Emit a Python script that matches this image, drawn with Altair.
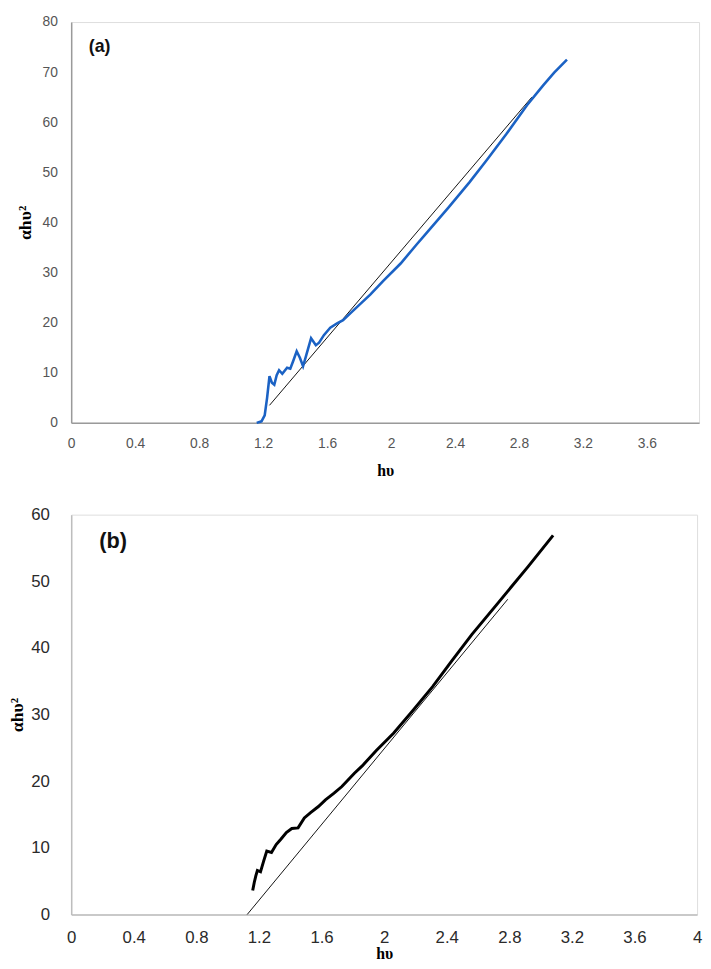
import altair as alt
import pandas as pd

# ---------------- data ----------------
# panel (a): measured curve (blue) and linear fit (thin black)
a_hv = [1.16, 1.19, 1.21, 1.225, 1.24, 1.255, 1.27, 1.285, 1.30, 1.32, 1.35, 1.37,
        1.39, 1.41, 1.43, 1.45, 1.47, 1.50, 1.53, 1.55, 1.58, 1.62, 1.66, 1.70,
        1.75, 1.81, 1.87, 1.95, 2.06, 2.16, 2.22, 2.36, 2.49, 2.60, 2.72, 2.85,
        2.95, 3.02, 3.10]
a_val = [0.0, 0.3, 1.5, 5.0, 9.3, 8.0, 7.6, 9.5, 10.5, 9.8, 11.0, 10.8,
         12.5, 14.3, 13.0, 11.3, 13.5, 16.9, 15.5, 16.0, 17.5, 19.0, 19.8, 20.5,
         22.0, 23.8, 25.6, 28.3, 31.8, 35.6, 37.8, 43.0, 48.0, 52.5, 57.6, 63.4,
         67.3, 69.9, 72.5]
a_fit_hv = [1.24, 2.88]
a_fit_val = [3.5, 65.0]

# panel (b): measured curve (thick black) and linear fit (thin black)
b_hv = [1.16, 1.17, 1.18, 1.19, 1.21, 1.23, 1.25, 1.28, 1.31, 1.34, 1.375, 1.41,
        1.45, 1.49, 1.53, 1.58, 1.625, 1.68, 1.73, 1.81, 1.86, 1.95, 2.06, 2.18,
        2.31, 2.43, 2.56, 2.73, 2.92, 3.08]
b_val = [3.6, 4.8, 5.8, 6.6, 6.4, 8.0, 9.5, 9.3, 10.5, 11.3, 12.3, 12.9,
         13.0, 14.5, 15.3, 16.2, 17.2, 18.2, 19.2, 21.2, 22.3, 24.6, 27.2, 30.5,
         34.2, 38.0, 42.0, 46.8, 52.2, 56.9]
b_fit_hv = [1.125, 2.79]
b_fit_val = [0.0, 47.3]

x_ticks_a = [0, 0.4, 0.8, 1.2, 1.6, 2, 2.4, 2.8, 3.2, 3.6]
x_ticks_b = [0, 0.4, 0.8, 1.2, 1.6, 2, 2.4, 2.8, 3.2, 3.6, 4]
y_ticks_a = [0, 10, 20, 30, 40, 50, 60, 70, 80]
y_ticks_b = [0, 10, 20, 30, 40, 50, 60]

x_title = "hυ"
y_title = "αhυ²"

df_a = pd.DataFrame({"hv": a_hv, "v": a_val})
df_a_fit = pd.DataFrame({"hv": a_fit_hv, "v": a_fit_val})
df_b = pd.DataFrame({"hv": b_hv, "v": b_val})
df_b_fit = pd.DataFrame({"hv": b_fit_hv, "v": b_fit_val})
df_a_lab = pd.DataFrame({"hv": [0.11], "v": [75.0], "t": ["(a)"]})
df_b_lab = pd.DataFrame({"hv": [0.18], "v": [56.0], "t": ["(b)"]})

SERIF = "Liberation Serif"
SANS = "Liberation Sans"


def axes(xdom, xticks, ydom, yticks, lab_size, lab_color, dom_color,
         x_lpad, x_tpad, y_lpad, y_tpad):
    x = alt.X(
        "hv:Q",
        scale=alt.Scale(domain=xdom, nice=False, zero=False),
        axis=alt.Axis(values=xticks, title=x_title, grid=False, ticks=False,
                      format="~r", labelFlush=False,
                      labelFont=SANS, labelFontSize=lab_size, labelColor=lab_color,
                      labelPadding=x_lpad, domainColor=dom_color, domainWidth=1.5,
                      titleFont=SERIF, titleFontSize=16, titleFontWeight="bold",
                      titleColor="#000000", titlePadding=x_tpad),
    )
    y = alt.Y(
        "v:Q",
        scale=alt.Scale(domain=ydom, nice=False, zero=False),
        axis=alt.Axis(values=yticks, title=y_title, grid=False, ticks=False,
                      format="d", labelFlush=False,
                      labelFont=SANS, labelFontSize=lab_size, labelColor=lab_color,
                      labelPadding=y_lpad, domainColor=dom_color, domainWidth=1.5,
                      titleFont=SERIF, titleFontSize=18, titleFontWeight="bold",
                      titleColor="#000000", titlePadding=y_tpad),
    )
    return x, y


# ---------------- panel (a) ----------------
xa, ya = axes([0, 3.926], x_ticks_a, [0, 80], y_ticks_a, 14, "#555555", "#9a9a9a",
              14, 12, 14, 8)
curve_a = alt.Chart(df_a).mark_line(color="#1b62c4", strokeWidth=2.6).encode(x=xa, y=ya)
fit_a = alt.Chart(df_a_fit).mark_line(color="#111111", strokeWidth=1).encode(x=xa, y=ya)
lab_a = alt.Chart(df_a_lab).mark_text(align="left", baseline="middle", font=SANS,
                                      fontSize=18, fontWeight="bold", color="#111111"
                                      ).encode(x=xa, y=ya, text="t:N")
panel_a = alt.layer(fit_a, curve_a, lab_a).properties(width=636, height=406)

# ---------------- panel (b) ----------------
xb, yb = axes([0, 4], x_ticks_b, [0, 60], y_ticks_b, 17, "#2a2a2a", "#bdbdbd",
              15, 1, 22, 4)
curve_b = alt.Chart(df_b).mark_line(color="#000000", strokeWidth=3).encode(x=xb, y=yb)
fit_b = alt.Chart(df_b_fit).mark_line(color="#111111", strokeWidth=1).encode(x=xb, y=yb)
lab_b = alt.Chart(df_b_lab).mark_text(align="left", baseline="middle", font=SANS,
                                      fontSize=22, fontWeight="bold", color="#111111"
                                      ).encode(x=xb, y=yb, text="t:N")
panel_b = alt.layer(fit_b, curve_b, lab_b).properties(width=634, height=405)

chart = alt.vconcat(panel_a, panel_b, spacing=26).properties(
    padding={"left": 0, "top": 0, "right": 0, "bottom": 0}
).configure_view(stroke=None).configure(background="#ffffff")

chart.save("out.html", embed_options={"renderer": "svg", "actions": False})
